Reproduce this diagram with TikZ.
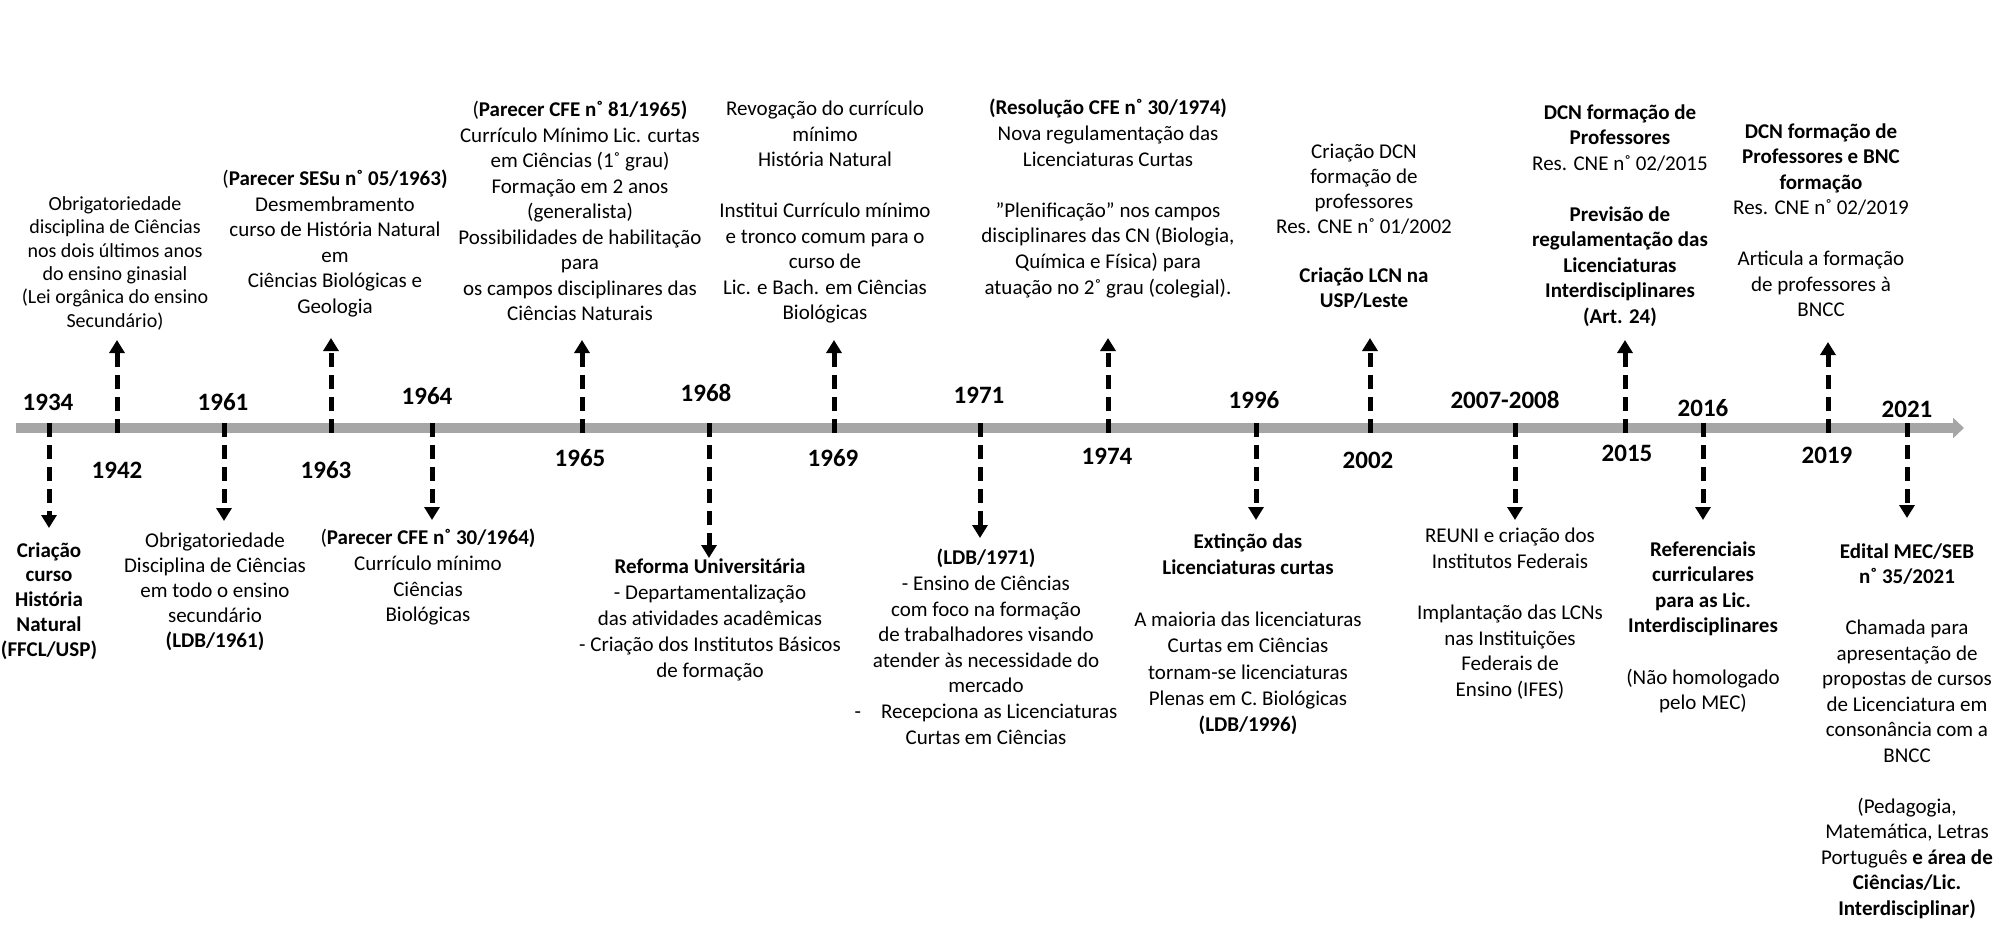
\documentclass[tikz,border=0pt]{standalone}
\usepackage{fontspec}
\setmainfont{Carlito}
\usetikzlibrary{arrows.meta}
\definecolor{barcol}{RGB}{166,166,166}
\newcommand{\tlfS}{\fontsize{10pt}{11.7pt}\selectfont}
\newcommand{\tlfA}{\fontsize{10.5pt}{12.75pt}\selectfont}
\newcommand{\tlfB}{\fontsize{10.5pt}{12.8pt}\selectfont}
\newcommand{\tlfD}{\fontsize{10.5pt}{12.4pt}\selectfont}
\newcommand{\tlfE}{\fontsize{10.5pt}{13.1pt}\selectfont}
\newcommand{\dg}{˚}
\begin{document}
\begin{tikzpicture}[x=0.5pt,y=-0.5pt,
  yr/.style={font=\fontsize{12.5pt}{15pt}\selectfont\bfseries, inner sep=0pt},
  txt/.style={align=center, inner sep=0pt, anchor=north},
  evt/.style={line width=2.5pt, dash pattern=on 7pt off 4pt, -{Triangle[length=6.5pt,width=7.5pt]}},
  axisline/.style={draw=barcol, line width=5pt, -{Triangle[length=5.5pt,width=10pt,fill=barcol]}}
]
\useasboundingbox (0,0) rectangle (1999,948);

% axis
\coordinate (axL) at (16,428);
\coordinate (axR) at (1964,428);
\draw[axisline] (axL) -- (axR);

% year labels
\node[yr] (y1934) at (48,402) {1934};
\node[yr] (y1942) at (117,470) {1942};
\node[yr] (y1961) at (223,402) {1961};
\node[yr] (y1963) at (326,470) {1963};
\node[yr] (y1964) at (427,396) {1964};
\node[yr] (y1965) at (580,458) {1965};
\node[yr] (y1968) at (706,393) {1968};
\node[yr] (y1969) at (833,458) {1969};
\node[yr] (y1971) at (979,395) {1971};
\node[yr] (y1974) at (1107,456) {1974};
\node[yr] (y1996) at (1254,400) {1996};
\node[yr] (y2002) at (1368,460) {2002};
\node[yr] (y2007) at (1505,400) {2007-2008};
\node[yr] (y2015) at (1627,453) {2015};
\node[yr] (y2016) at (1703,408) {2016};
\node[yr] (y2019) at (1827,455) {2019};
\node[yr] (y2021) at (1907,409) {2021};

% top texts
\node[txt, font=\tlfS] (t1942) at (115,196) {Obrigatoriedade\\disciplina de Ciências\\nos dois últimos anos\\do ensino ginasial\\(Lei orgânica do ensino\\Secundário)};
\node[txt, font=\tlfA] (t1963) at (335,170) {(\textbf{Parecer SESu n\dg{} 05/1963)}\\Desmembramento\\curso de História Natural\\em\\Ciências Biológicas e\\Geologia};
\node[txt, font=\tlfA] (t1965) at (580,101) {(\textbf{Parecer CFE n\dg{} 81/1965)}\\Currículo Mínimo Lic. curtas\\em Ciências (1\dg{} grau)\\Formação em 2 anos\\(generalista)\\Possibilidades de habilitação\\para\\os campos disciplinares das\\Ciências Naturais};
\node[txt, font=\tlfA] (t1969) at (825,101) {Revogação do currículo\\mínimo\\História Natural\\[12.75pt]Institui Currículo mínimo\\e tronco comum para o\\curso de\\Lic. e Bach. em Ciências\\Biológicas};
\node[txt, font=\tlfB] (t1974) at (1108,99) {\textbf{(Resolução CFE n\dg{} 30/1974)}\\Nova regulamentação das\\Licenciaturas Curtas\\[12.8pt]”Plenificação” nos campos\\disciplinares das CN (Biologia,\\Química e Física) para\\atuação no 2\dg{} grau (colegial).};
\node[txt, font=\tlfD] (t2002) at (1364,144) {Criação DCN\\formação de\\professores\\Res. CNE n\dg{} 01/2002\\[12.4pt]\textbf{Criação LCN na}\\\textbf{USP/Leste}};
\node[txt, font=\tlfA] (t2015) at (1620,104) {\textbf{DCN formação de}\\\textbf{Professores}\\Res. CNE n\dg{} 02/2015\\[12.75pt]\textbf{Previsão de}\\\textbf{regulamentação das}\\\textbf{Licenciaturas}\\\textbf{Interdisciplinares}\\\textbf{(Art. 24)}};
\node[txt, font=\tlfA] (t2019) at (1821,123) {\textbf{DCN formação de}\\\textbf{Professores e BNC}\\\textbf{formação}\\Res. CNE n\dg{} 02/2019\\[12.75pt]Articula a formação\\de professores à\\BNCC};

% bottom texts
\node[txt, font=\tlfD\bfseries] (t1934) at (49,542) {Criação\\curso\\História\\Natural\\(FFCL/USP)};
\node[txt, font=\tlfD] (t1961) at (215,533) {Obrigatoriedade\\Disciplina de Ciências\\em todo o ensino\\secundário\\\textbf{(LDB/1961)}};
\node[txt, font=\tlfB] (t1964) at (428,529) {(\textbf{Parecer CFE n\dg{} 30/1964)}\\Currículo mínimo\\Ciências\\Biológicas};
\node[txt, font=\tlfE] (t1968) at (710,558) {\textbf{Reforma Universitária}\\- Departamentalização\\das atividades acadêmicas\\- Criação dos Institutos Básicos\\de formação};
\node[txt, font=\tlfB] (t1971) at (986,549) {\textbf{(LDB/1971)}\\- Ensino de Ciências\\com foco na formação\\de trabalhadores visando\\atender às necessidade do\\mercado\\-\hspace{10pt}Recepciona as Licenciaturas\\Curtas em Ciências};
\node[txt, font=\tlfE] (t1996) at (1248,533) {\textbf{Extinção das}\\\textbf{Licenciaturas curtas}\\[13.1pt]A maioria das licenciaturas\\Curtas em Ciências\\tornam-se licenciaturas\\Plenas em C. Biológicas\\\textbf{(LDB/1996)}};
\node[txt, font=\tlfB] (t2007) at (1510,528) {REUNI e criação dos\\Institutos Federais\\[12.8pt]Implantação das LCNs\\nas Instituições\\Federais de\\Ensino (IFES)};
\node[txt, font=\tlfB] (t2016) at (1703,541) {\textbf{Referenciais}\\\textbf{curriculares}\\\textbf{para as Lic.}\\\textbf{Interdisciplinares}\\[12.8pt](Não homologado\\pelo MEC)};
\node[txt, font=\tlfA] (t2021) at (1907,543) {\textbf{Edital MEC/SEB}\\\textbf{n\dg{} 35/2021}\\[12.75pt]Chamada para\\apresentação de\\propostas de cursos\\de Licenciatura em\\consonância com a\\BNCC\\[12.75pt](Pedagogia,\\Matemática, Letras\\Português \textbf{e área de}\\\textbf{Ciências/Lic.}\\\textbf{Interdisciplinar)}};

% arrow anchors on the axis and tips
\coordinate (b1934) at (49,423);   \coordinate (h1934) at (49,528);
\coordinate (b1961) at (224,423);  \coordinate (h1961) at (224,521);
\coordinate (b1964) at (432,423);  \coordinate (h1964) at (432,520);
\coordinate (b1968) at (709,423);  \coordinate (h1968) at (709,558);
\coordinate (b1971) at (980,423);  \coordinate (h1971) at (980,538);
\coordinate (b1996) at (1256,423); \coordinate (h1996) at (1256,520);
\coordinate (b2007) at (1515,423); \coordinate (h2007) at (1515,520);
\coordinate (b2016) at (1703,423); \coordinate (h2016) at (1703,520);
\coordinate (b2021) at (1907,423); \coordinate (h2021) at (1907,518);

\coordinate (b1942) at (117,433);  \coordinate (h1942) at (117,340);
\coordinate (b1963) at (331,433);  \coordinate (h1963) at (331,338);
\coordinate (b1965) at (582,433);  \coordinate (h1965) at (582,340);
\coordinate (b1969) at (834,433);  \coordinate (h1969) at (834,340);
\coordinate (b1974) at (1108,433); \coordinate (h1974) at (1108,338);
\coordinate (b2002) at (1370,433); \coordinate (h2002) at (1370,338);
\coordinate (b2015) at (1625,433); \coordinate (h2015) at (1625,340);
\coordinate (b2019) at (1828,433); \coordinate (h2019) at (1828,342);

\foreach \e in {1934,1961,1964,1968,1971,1996,2007,2016,2021,1942,1963,1965,1969,1974,2002,2015,2019}
  \draw[evt] (b\e) -- (h\e);
\end{tikzpicture}
\end{document}
